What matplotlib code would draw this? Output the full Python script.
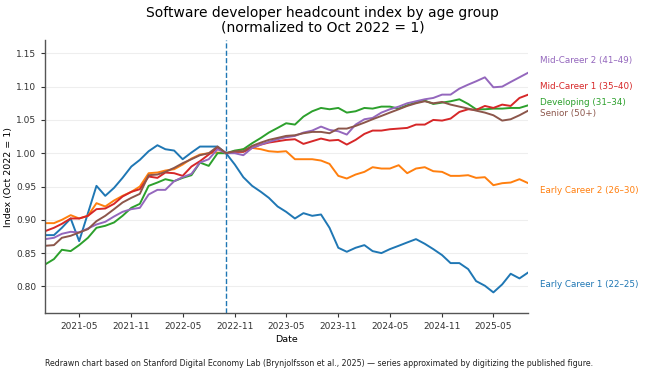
import matplotlib
matplotlib.use("Agg")
import matplotlib.pyplot as plt
import matplotlib.dates as mdates
import numpy as np
import pandas as pd

months = pd.date_range("2021-01-01", "2025-09-01", freq="MS")

early_career_1 = [0.877, 0.877, 0.888, 0.902, 0.868, 0.910, 0.951, 0.936, 0.948, 0.963,
                  0.980, 0.990, 1.003, 1.012, 1.006, 1.004, 0.991, 1.001, 1.010, 1.010,
                  1.010, 1.000, 0.983, 0.964, 0.951, 0.942, 0.933, 0.920, 0.912, 0.902,
                  0.910, 0.906, 0.908, 0.888, 0.858, 0.852, 0.858, 0.862, 0.853, 0.850,
                  0.856, 0.861, 0.866, 0.871, 0.864, 0.856, 0.847, 0.835, 0.835, 0.826,
                  0.808, 0.801, 0.791, 0.803, 0.819, 0.812, 0.821]
early_career_2 = [0.895, 0.895, 0.900, 0.907, 0.902, 0.906, 0.925, 0.920, 0.929, 0.936,
                  0.942, 0.950, 0.970, 0.971, 0.974, 0.976, 0.983, 0.992, 0.998, 1.000,
                  1.001, 1.000, 1.002, 1.006, 1.008, 1.006, 1.003, 1.002, 1.003, 0.991,
                  0.991, 0.991, 0.989, 0.984, 0.966, 0.962, 0.968, 0.972, 0.979, 0.977,
                  0.977, 0.982, 0.970, 0.977, 0.979, 0.973, 0.972, 0.966, 0.966, 0.967,
                  0.963, 0.964, 0.952, 0.955, 0.956, 0.961, 0.955]
developing = [0.833, 0.841, 0.855, 0.853, 0.862, 0.873, 0.888, 0.891, 0.896, 0.906,
              0.918, 0.924, 0.951, 0.956, 0.961, 0.958, 0.963, 0.967, 0.986, 0.981,
              1.000, 1.000, 1.004, 1.006, 1.015, 1.023, 1.031, 1.038, 1.045, 1.043,
              1.055, 1.063, 1.068, 1.066, 1.068, 1.061, 1.063, 1.068, 1.067, 1.070,
              1.070, 1.067, 1.072, 1.076, 1.079, 1.074, 1.076, 1.078, 1.081, 1.074,
              1.066, 1.066, 1.067, 1.067, 1.068, 1.068, 1.072]
mid_career_1 = [0.883, 0.888, 0.894, 0.902, 0.902, 0.906, 0.916, 0.917, 0.924, 0.935,
                0.942, 0.946, 0.965, 0.963, 0.971, 0.970, 0.966, 0.980, 0.988, 0.998,
                1.008, 1.000, 1.002, 1.002, 1.008, 1.013, 1.016, 1.018, 1.020, 1.021,
                1.014, 1.018, 1.022, 1.019, 1.020, 1.013, 1.020, 1.029, 1.034, 1.034,
                1.036, 1.037, 1.038, 1.043, 1.043, 1.050, 1.049, 1.052, 1.062, 1.066,
                1.065, 1.071, 1.068, 1.073, 1.071, 1.083, 1.088]
mid_career_2 = [0.871, 0.873, 0.879, 0.882, 0.881, 0.887, 0.893, 0.897, 0.905, 0.912,
                0.916, 0.918, 0.938, 0.945, 0.945, 0.958, 0.964, 0.969, 0.986, 0.991,
                1.006, 1.000, 1.000, 0.997, 1.008, 1.013, 1.017, 1.021, 1.024, 1.026,
                1.031, 1.034, 1.040, 1.035, 1.033, 1.028, 1.043, 1.051, 1.053, 1.061,
                1.066, 1.070, 1.075, 1.078, 1.081, 1.083, 1.088, 1.088, 1.097, 1.103,
                1.108, 1.114, 1.099, 1.100, 1.107, 1.114, 1.121]
senior = [0.861, 0.862, 0.873, 0.876, 0.881, 0.886, 0.898, 0.906, 0.916, 0.926,
          0.933, 0.939, 0.967, 0.968, 0.972, 0.978, 0.985, 0.991, 0.997, 1.000,
          1.010, 1.000, 1.003, 1.003, 1.011, 1.016, 1.020, 1.023, 1.026, 1.027,
          1.030, 1.032, 1.032, 1.030, 1.037, 1.037, 1.041, 1.046, 1.051, 1.056,
          1.061, 1.066, 1.071, 1.075, 1.078, 1.075, 1.077, 1.073, 1.070, 1.067,
          1.064, 1.061, 1.057, 1.049, 1.051, 1.057, 1.064]

series_names = ["Early Career 1 (22–25)", "Early Career 2 (26–30)", "Developing (31–34)",
                "Mid-Career 1 (35–40)", "Mid-Career 2 (41–49)", "Senior (50+)"]
series_values = [early_career_1, early_career_2, developing, mid_career_1, mid_career_2, senior]
colors = ["#1f77b4", "#ff7f0e", "#2ca02c", "#d62728", "#9467bd", "#8c564b"]
label_y = [0.803, 0.944, 1.076, 1.100, 1.139, 1.060]  # label layout positions

plt.rcParams["font.family"] = ["DejaVu Sans"]
fig = plt.figure(figsize=(6.45, 3.74), dpi=100)
ax = fig.add_axes([0.070, 0.163, 0.749, 0.730])

for name, vals, c in zip(series_names, series_values, colors):
    ax.plot(months, vals, color=c, lw=1.4)

ax.axvline(pd.Timestamp("2022-10-01"), color="#1f77b4", ls="--", lw=1.0)

ax.set_xlim(months[0], months[-1])
ax.set_ylim(0.76, 1.17)
ax.set_yticks(np.arange(0.80, 1.151, 0.05))
ax.yaxis.set_major_formatter(matplotlib.ticker.FormatStrFormatter("%.2f"))
ax.xaxis.set_major_locator(mdates.MonthLocator(bymonth=[5, 11]))
ax.xaxis.set_major_formatter(mdates.DateFormatter("%Y-%m"))
ax.tick_params(labelsize=6.5, length=3, width=0.8, colors="#333333")
ax.grid(axis="y", color="#eeeeee", lw=0.8)
ax.set_axisbelow(True)
for s in ["top", "right"]:
    ax.spines[s].set_visible(False)
for s in ["left", "bottom"]:
    ax.spines[s].set_color("#555555")
    ax.spines[s].set_linewidth(1.0)

ax.set_xlabel("Date", fontsize=6.8, labelpad=3)
ax.set_ylabel("Index (Oct 2022 = 1)", fontsize=6.8, labelpad=2)

for name, ly, c in zip(series_names, label_y, colors):
    ax.annotate(name, xy=(1.0, ly), xycoords=("axes fraction", "data"),
                xytext=(8.5, 0), textcoords="offset points",
                color=c, fontsize=6.3, va="center", ha="left", annotation_clip=False)

fig.text(0.5, 0.985, "Software developer headcount index by age group\n(normalized to Oct 2022 = 1)",
         ha="center", va="top", fontsize=10, linespacing=1.1)
fig.text(0.070, 0.022, "Redrawn chart based on Stanford Digital Economy Lab (Brynjolfsson et al., 2025) — "
         "series approximated by digitizing the published figure.", fontsize=5.7, ha="left",
         color="#222222")

fig.savefig("out.png", dpi=100)
